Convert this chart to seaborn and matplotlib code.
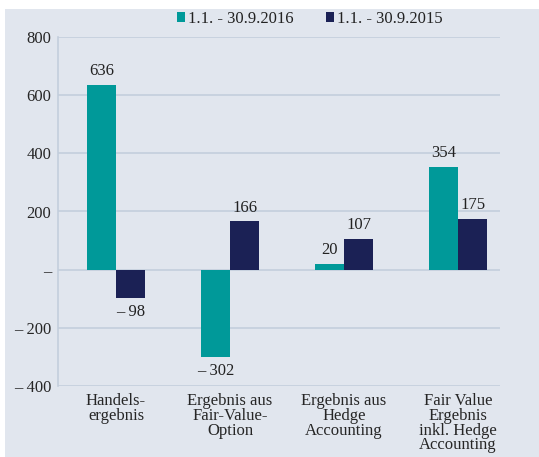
import seaborn as sns
import pandas as pd
import matplotlib.pyplot as plt
from matplotlib.patches import Rectangle

categories = ['Handels-\nergebnis', 'Ergebnis aus\nFair-Value-\nOption',
              'Ergebnis aus\nHedge\nAccounting',
              'Fair Value\nErgebnis\ninkl. Hedge\nAccounting']
periods = ['1.1. - 30.9.2016', '1.1. - 30.9.2015']
values_2016 = [636, -302, 20, 354]
values_2015 = [-98, 166, 107, 175]
yticks = [-400, -200, 0, 200, 400, 600, 800]
ytick_labels = ['\u2013 400', '\u2013 200', '\u2013', '200', '400', '600', '800']

bg = '#e1e6ee'
grid_col = '#c3cedc'
colors = ['#009999', '#1b2155']

df = pd.DataFrame({
    'Kategorie': categories * 2,
    'Zeitraum': [periods[0]] * 4 + [periods[1]] * 4,
    'Wert': values_2016 + values_2015,
})

sns.set_theme(style='white')
plt.rcParams['font.family'] = ['Liberation Serif', 'DejaVu Serif']
plt.rcParams['text.color'] = '#222222'
fs = 12

fig = plt.figure(figsize=(5.39, 4.57), dpi=100, facecolor='white')
fig.patches.append(Rectangle((5 / 539, 0), 1, 1 - 9 / 457,
                             transform=fig.transFigure, facecolor=bg,
                             edgecolor='none', zorder=-10))
ax = fig.add_axes([58 / 539, 1 - 386 / 457, 442 / 539, 349 / 457])
ax.set_facecolor(bg)

sns.barplot(data=df, x='Kategorie', y='Wert', hue='Zeitraum',
            palette=colors, width=0.51, saturation=1, linewidth=0,
            ax=ax, zorder=3)

ax.set_xlim(-0.509, 3.368)
ax.set_ylim(-400, 800)
ax.set_yticks(yticks)
ax.set_yticklabels(ytick_labels, fontsize=fs)
ax.tick_params(axis='y', length=0, pad=5)
ax.tick_params(axis='x', length=0, pad=5)
ax.set_xticks(range(4))
ax.set_xticklabels(categories, fontsize=fs, linespacing=0.9, va='top')
ax.set_xlabel('')
ax.set_ylabel('')
ax.grid(axis='y', color=grid_col, linewidth=1.2, zorder=0)
for s in ['top', 'right', 'bottom']:
    ax.spines[s].set_visible(False)
ax.spines['left'].set_color(grid_col)
ax.spines['left'].set_linewidth(1.2)

for cont in ax.containers:
    for bar, v in zip(cont, cont.datavalues):
        x = bar.get_x() + bar.get_width() / 2
        txt = f'{v:.0f}' if v >= 0 else f'\u2013 {abs(v):.0f}'
        if v >= 0:
            ax.annotate(txt, (x, v), xytext=(0, 4), textcoords='offset points',
                        ha='center', va='bottom', fontsize=fs)
        else:
            ax.annotate(txt, (x, v), xytext=(0, -4), textcoords='offset points',
                        ha='center', va='top', fontsize=fs)

leg = ax.legend(loc='lower center', bbox_to_anchor=(0.57, 1.0), ncol=2,
                frameon=False, fontsize=fs, handlelength=0.5, handleheight=0.5,
                handletextpad=0.2, columnspacing=1.9, borderaxespad=0.2)

fig.savefig('out.png', dpi=100, facecolor=fig.get_facecolor())
